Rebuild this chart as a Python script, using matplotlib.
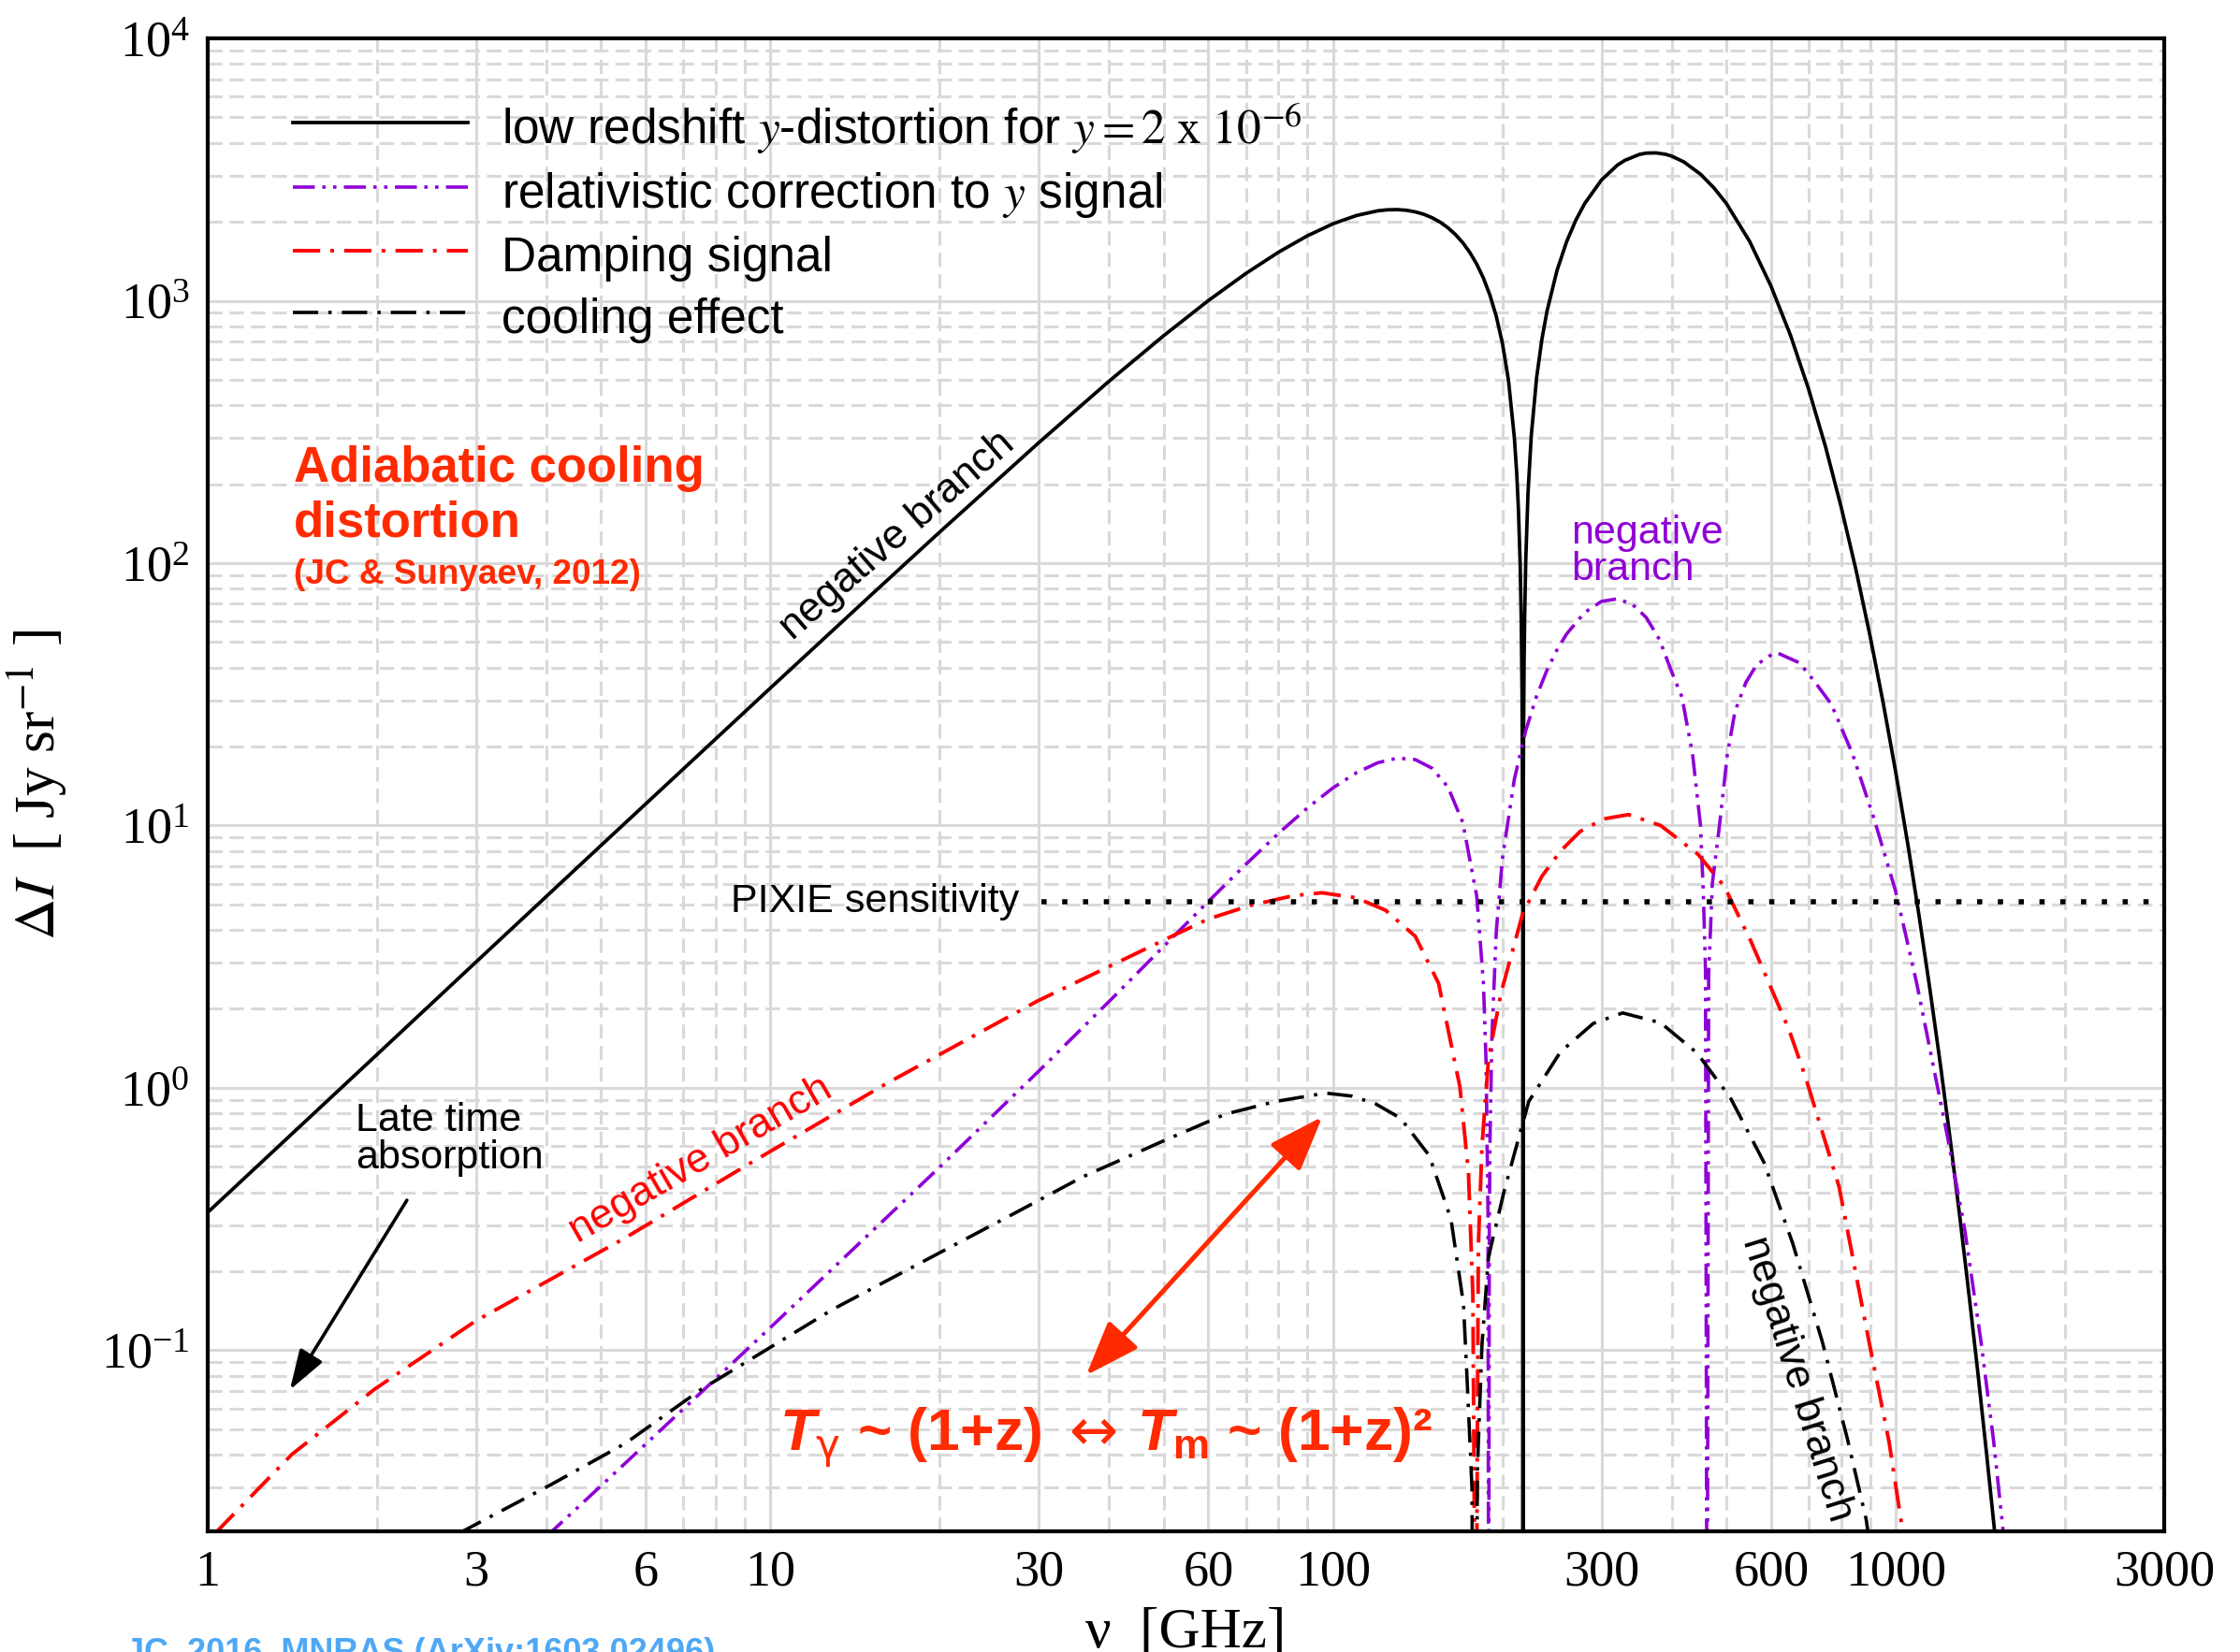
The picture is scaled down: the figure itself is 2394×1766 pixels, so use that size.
import matplotlib
matplotlib.use('Agg')
import matplotlib.pyplot as plt
from matplotlib.ticker import FixedLocator, FixedFormatter, NullFormatter, LogLocator

# y-distortion for y = 2e-6 (absolute value, Jy/sr)
nu_y = [1, 2, 3, 5, 10, 15, 20, 30, 40, 50, 60, 70, 80, 90, 100, 110, 120, 125, 130,
        135, 140, 145, 150, 155, 160, 165, 170, 175, 180, 185, 190, 195, 200, 205, 210,
        212, 213.5, 215, 216, 216.7, 217.3, 217.47, 217.7, 218, 218.5, 219, 220, 222,
        225, 230, 235, 240, 250, 260, 270, 280, 300, 320, 330, 350, 360, 375, 390, 400,
        420, 450, 475, 500, 550, 600, 650, 700, 750, 800, 850, 900, 950, 1000, 1050,
        1100, 1150, 1200, 1250, 1300, 1350, 1400, 1450, 1500, 1550]
dI_y = [0.335, 1.34, 3.02, 8.39, 33.4, 74.6, 131.4, 288, 494, 736, 1001, 1271, 1532,
        1768, 1966, 2113, 2202, 2222, 2226, 2213, 2182, 2136, 2072, 1993, 1898, 1788,
        1665, 1528, 1379, 1220, 1050, 872, 687, 496, 299.5, 219.9, 159.9, 99.8, 59.4,
        30.8, 6.5, 0.003, 9.6, 21.5, 42.0, 62.1, 102.7, 184, 306, 510, 713, 914, 1305,
        1679, 2028, 2348, 2889, 3288, 3429, 3611, 3654, 3661, 3616, 3557, 3384, 3034,
        2695, 2348, 1682, 1138, 738, 460, 278, 163, 93.9, 52.8, 29.2, 15.9, 8.53, 4.52,
        2.37, 1.23, 0.629, 0.320, 0.161, 0.081, 0.0402, 0.0199, 0.0098]

# relativistic correction to the y signal
nu_rel = [4, 5, 6, 8, 10, 15, 20, 30, 40, 50, 60, 70, 80, 90, 100, 110, 120, 130, 140,
          150, 160, 170, 180, 185, 187, 188.5, 189.0, 189.5, 190, 191.5, 195, 200, 210,
          220, 230, 240, 250, 260, 280, 300, 320, 340, 360, 380, 400, 416.8, 435.3,
          449.7, 455, 459, 462, 465, 472, 486, 502, 518, 541.5, 566, 604, 617, 674, 719,
          768, 838, 915, 998, 1042, 1089, 1237, 1324, 1417, 1493, 1544, 1600]
dI_rel = [0.0195, 0.0304, 0.0438, 0.0779, 0.122, 0.278, 0.499, 1.159, 2.136, 3.458,
          5.129, 7.115, 9.337, 11.66, 13.92, 15.88, 17.34, 18.06, 17.83, 16.52, 14.01,
          10.28, 5.38, 2.51, 1.26, 0.33, 0.003, 0.29, 0.608, 1.55, 3.95, 7.52, 15.04,
          23.02, 31.15, 39.14, 46.73, 53.69, 64.87, 71.48, 73.09, 69.74, 62.14, 51.26,
          38.34, 30.9, 18.7, 10.0, 5.5, 2.8, 0.003, 2.7, 6.0, 10.0, 18.7, 27.3, 35.1,
          41.0, 45.1, 45.4, 41.7, 35.1, 29.0, 18.7, 10.6, 5.67, 3.81, 2.51, 0.643,
          0.294, 0.108, 0.0446, 0.0226, 0.011]

# damping signal
nu_damp = [1.03, 1.41, 1.98, 2.99, 5.52, 9.4, 16.1, 29.8, 50.6, 60, 71.3, 85, 95.5,
           110, 124, 140, 154, 168, 174, 177.2, 179.3, 181.2, 183.9, 188.9, 198.8, 217.4,
           235, 253.5, 275, 303, 335, 382, 445, 496, 553, 645, 691, 793, 893, 973, 1030,
           1060]
dI_damp = [0.020, 0.040, 0.071, 0.129, 0.268, 0.53, 1.04, 2.14, 3.70, 4.4, 4.96, 5.40,
           5.54, 5.30, 4.75, 3.78, 2.50, 1.01, 0.477, 0.16, 0.003, 0.25, 0.6, 1.29, 2.30,
           4.64, 6.4, 7.98, 9.5, 10.6, 11.0, 10.0, 7.77, 5.85, 3.61, 1.68, 1.10, 0.419,
           0.112, 0.0446, 0.020, 0.012]

# cooling effect
nu_cool = [2.79, 4.06, 5.53, 7.52, 9.24, 12.9, 20.8, 27.4, 35.9, 49.8, 64.4, 79, 97,
           108, 119, 131.8, 148.2, 162, 170.5, 173.2, 176.5, 178.5, 180.5, 183.9, 188.9,
           201.4, 214.6, 222.7, 253.5, 290, 327, 382, 443, 508, 583, 656, 740, 820, 886,
           910]
dI_cool = [0.020, 0.0306, 0.0442, 0.0707, 0.0925, 0.143, 0.246, 0.336, 0.458, 0.626,
           0.794, 0.887, 0.955, 0.93, 0.869, 0.766, 0.552, 0.316, 0.150, 0.0743, 0.03,
           0.0005, 0.035, 0.105, 0.227, 0.405, 0.665, 0.887, 1.37, 1.76, 1.93, 1.77, 1.36,
           0.918, 0.52, 0.255, 0.108, 0.0461, 0.0226, 0.015]

# PIXIE sensitivity level
pixie_nu = [30.3, 2900]
pixie_dI = [5.1, 5.1]

xtick_vals = [1, 3, 6, 10, 30, 60, 100, 300, 600, 1000, 3000]
xtick_labels = ['1', '3', '6', '10', '30', '60', '100', '300', '600', '1000', '3000']
xminor_vals = [2, 4, 5, 7, 8, 9, 20, 40, 50, 70, 80, 90, 200, 400, 500, 700, 800, 900, 2000]

purple = '#8f00d6'
red_txt = '#ff2a00'
grid_c = '#d9d9d9'

plt.rcParams['font.family'] = ['Liberation Sans', 'DejaVu Sans']
plt.rcParams['mathtext.fontset'] = 'stix'
# used only by the red formula (math_fontfamily='custom')
plt.rcParams['mathtext.rm'] = 'Liberation Sans:bold'
plt.rcParams['mathtext.it'] = 'Liberation Sans:bold:italic'
plt.rcParams['mathtext.bf'] = 'Liberation Sans:bold'
plt.rcParams['mathtext.sf'] = 'DejaVu Sans'

fig = plt.figure(figsize=(11.97, 8.83), dpi=200)
ax = fig.add_axes([0.0927, 0.07305, 0.8735, 0.9037])

ax.plot(nu_y, dI_y, color='k', lw=1.35,
        label=r'low redshift $y$-distortion for $y = 2\ \mathrm{x}\ 10^{-6}$')
ax.plot(nu_rel, dI_rel, color=purple, lw=1.3, ls=(0, (6.5, 2.2, 1, 2.2, 1, 2.2)),
        label=r'relativistic correction to $y$ signal')
ax.plot(nu_damp, dI_damp, color='red', lw=1.4, ls=(0, (7.5, 2.8, 1, 2.8)),
        label='Damping signal')
ax.plot(nu_cool, dI_cool, color='k', lw=1.3, ls=(0, (7.5, 3, 1, 3)),
        label='cooling effect')
ax.plot(pixie_nu, pixie_dI, color='k', lw=2.0, ls=(0, (1, 3)))

ax.set_xscale('log')
ax.set_yscale('log')
ax.set_xlim(1, 3000)
ax.set_ylim(0.0204, 1e4)

ax.xaxis.set_major_locator(FixedLocator(xtick_vals))
ax.xaxis.set_major_formatter(FixedFormatter(xtick_labels))
ax.xaxis.set_minor_locator(FixedLocator(xminor_vals))
ax.xaxis.set_minor_formatter(NullFormatter())
ax.yaxis.set_major_locator(LogLocator(base=10, numticks=20))
ax.yaxis.set_minor_locator(LogLocator(base=10, subs=[2, 3, 4, 5, 6, 7, 8, 9], numticks=20))
ax.yaxis.set_minor_formatter(NullFormatter())

ax.set_axisbelow(True)
ax.grid(True, which='major', color=grid_c, lw=1.1, ls='-')
ax.grid(True, which='minor', color=grid_c, lw=1.1, ls=(0, (5, 2.5)))
ax.tick_params(which='both', length=0, labelsize=19.5, labelfontfamily='Liberation Serif')
ax.tick_params(axis='x', pad=7)
ax.tick_params(axis='y', pad=7)
for s in ax.spines.values():
    s.set_linewidth(1.5)

ax.set_xlabel('ν  [GHz]', fontfamily='Liberation Serif', fontsize=22, labelpad=4)
ax.set_ylabel(r'$\Delta I$  [ Jy sr$^{-1}$ ]', fontfamily='Liberation Serif',
              fontsize=22, labelpad=12)

leg = ax.legend(loc='upper left', bbox_to_anchor=(0.0435, 0.958), frameon=False,
                fontsize=18.5, handlelength=3.65, handletextpad=0.69,
                handleheight=1.25, labelspacing=0.21, borderpad=0, borderaxespad=0)
for t in leg.get_texts():
    t.set_math_fontfamily('stix')

# annotations
ax.text(1.42, 281, 'Adiabatic cooling\ndistortion', color=red_txt, fontsize=19,
        fontweight='bold', ha='left', va='top', linespacing=1.22)
ax.text(1.42, 83.2, '(JC & Sunyaev, 2012)', color=red_txt, fontsize=13.3,
        fontweight='bold', ha='left', va='baseline')
ax.text(1.833, 0.88, 'Late time\nabsorption', fontsize=15.5, ha='left', va='top',
        linespacing=1.0)
ax.text(27.7, 5.1, 'PIXIE sensitivity', fontsize=15.5, ha='right', va='center')
ax.text(265, 153, 'negative\nbranch', color=purple, fontsize=15.5, ha='left', va='top',
        linespacing=0.95)
ax.text(16.8, 127, 'negative branch', fontsize=16, rotation=41, ha='center',
        va='center', rotation_mode='anchor')
ax.text(7.51, 0.532, 'negative branch', color='red', fontsize=16, rotation=30,
        ha='center', va='center', rotation_mode='anchor')
ax.text(667, 0.0778, 'negative branch', fontsize=16, rotation=-72.7, ha='center',
        va='center', rotation_mode='anchor')
ax.text(10.36, 0.0417,
        r'$T_{\mathsf{\gamma}}$ ~ (1+z) $\mathsf{\leftrightarrow}\,T_{\mathrm{m}}$ ~ (1+z)²',
        color=red_txt, fontsize=22.5, fontweight='bold', ha='left', va='baseline',
        math_fontfamily='custom')

ax.annotate('', xy=(1.40, 0.0706), xytext=(2.26, 0.373),
            arrowprops=dict(arrowstyle='-|>,head_length=0.55,head_width=0.18',
                            color='k', lw=1.3, mutation_scale=24, shrinkA=0, shrinkB=0))
ax.annotate('', xy=(95.7, 0.776), xytext=(36.4, 0.0802),
            arrowprops=dict(arrowstyle='<|-|>,head_length=0.6,head_width=0.22',
                            color=red_txt, lw=1.8, mutation_scale=30, shrinkA=0, shrinkB=0))

fig.text(0.0561, 0.009, 'JC, 2016, MNRAS (ArXiv:1603.02496)', color='#4ea8f5',
         fontsize=13, fontweight='bold', ha='left', va='top')

fig.savefig('out.png', dpi=200)
